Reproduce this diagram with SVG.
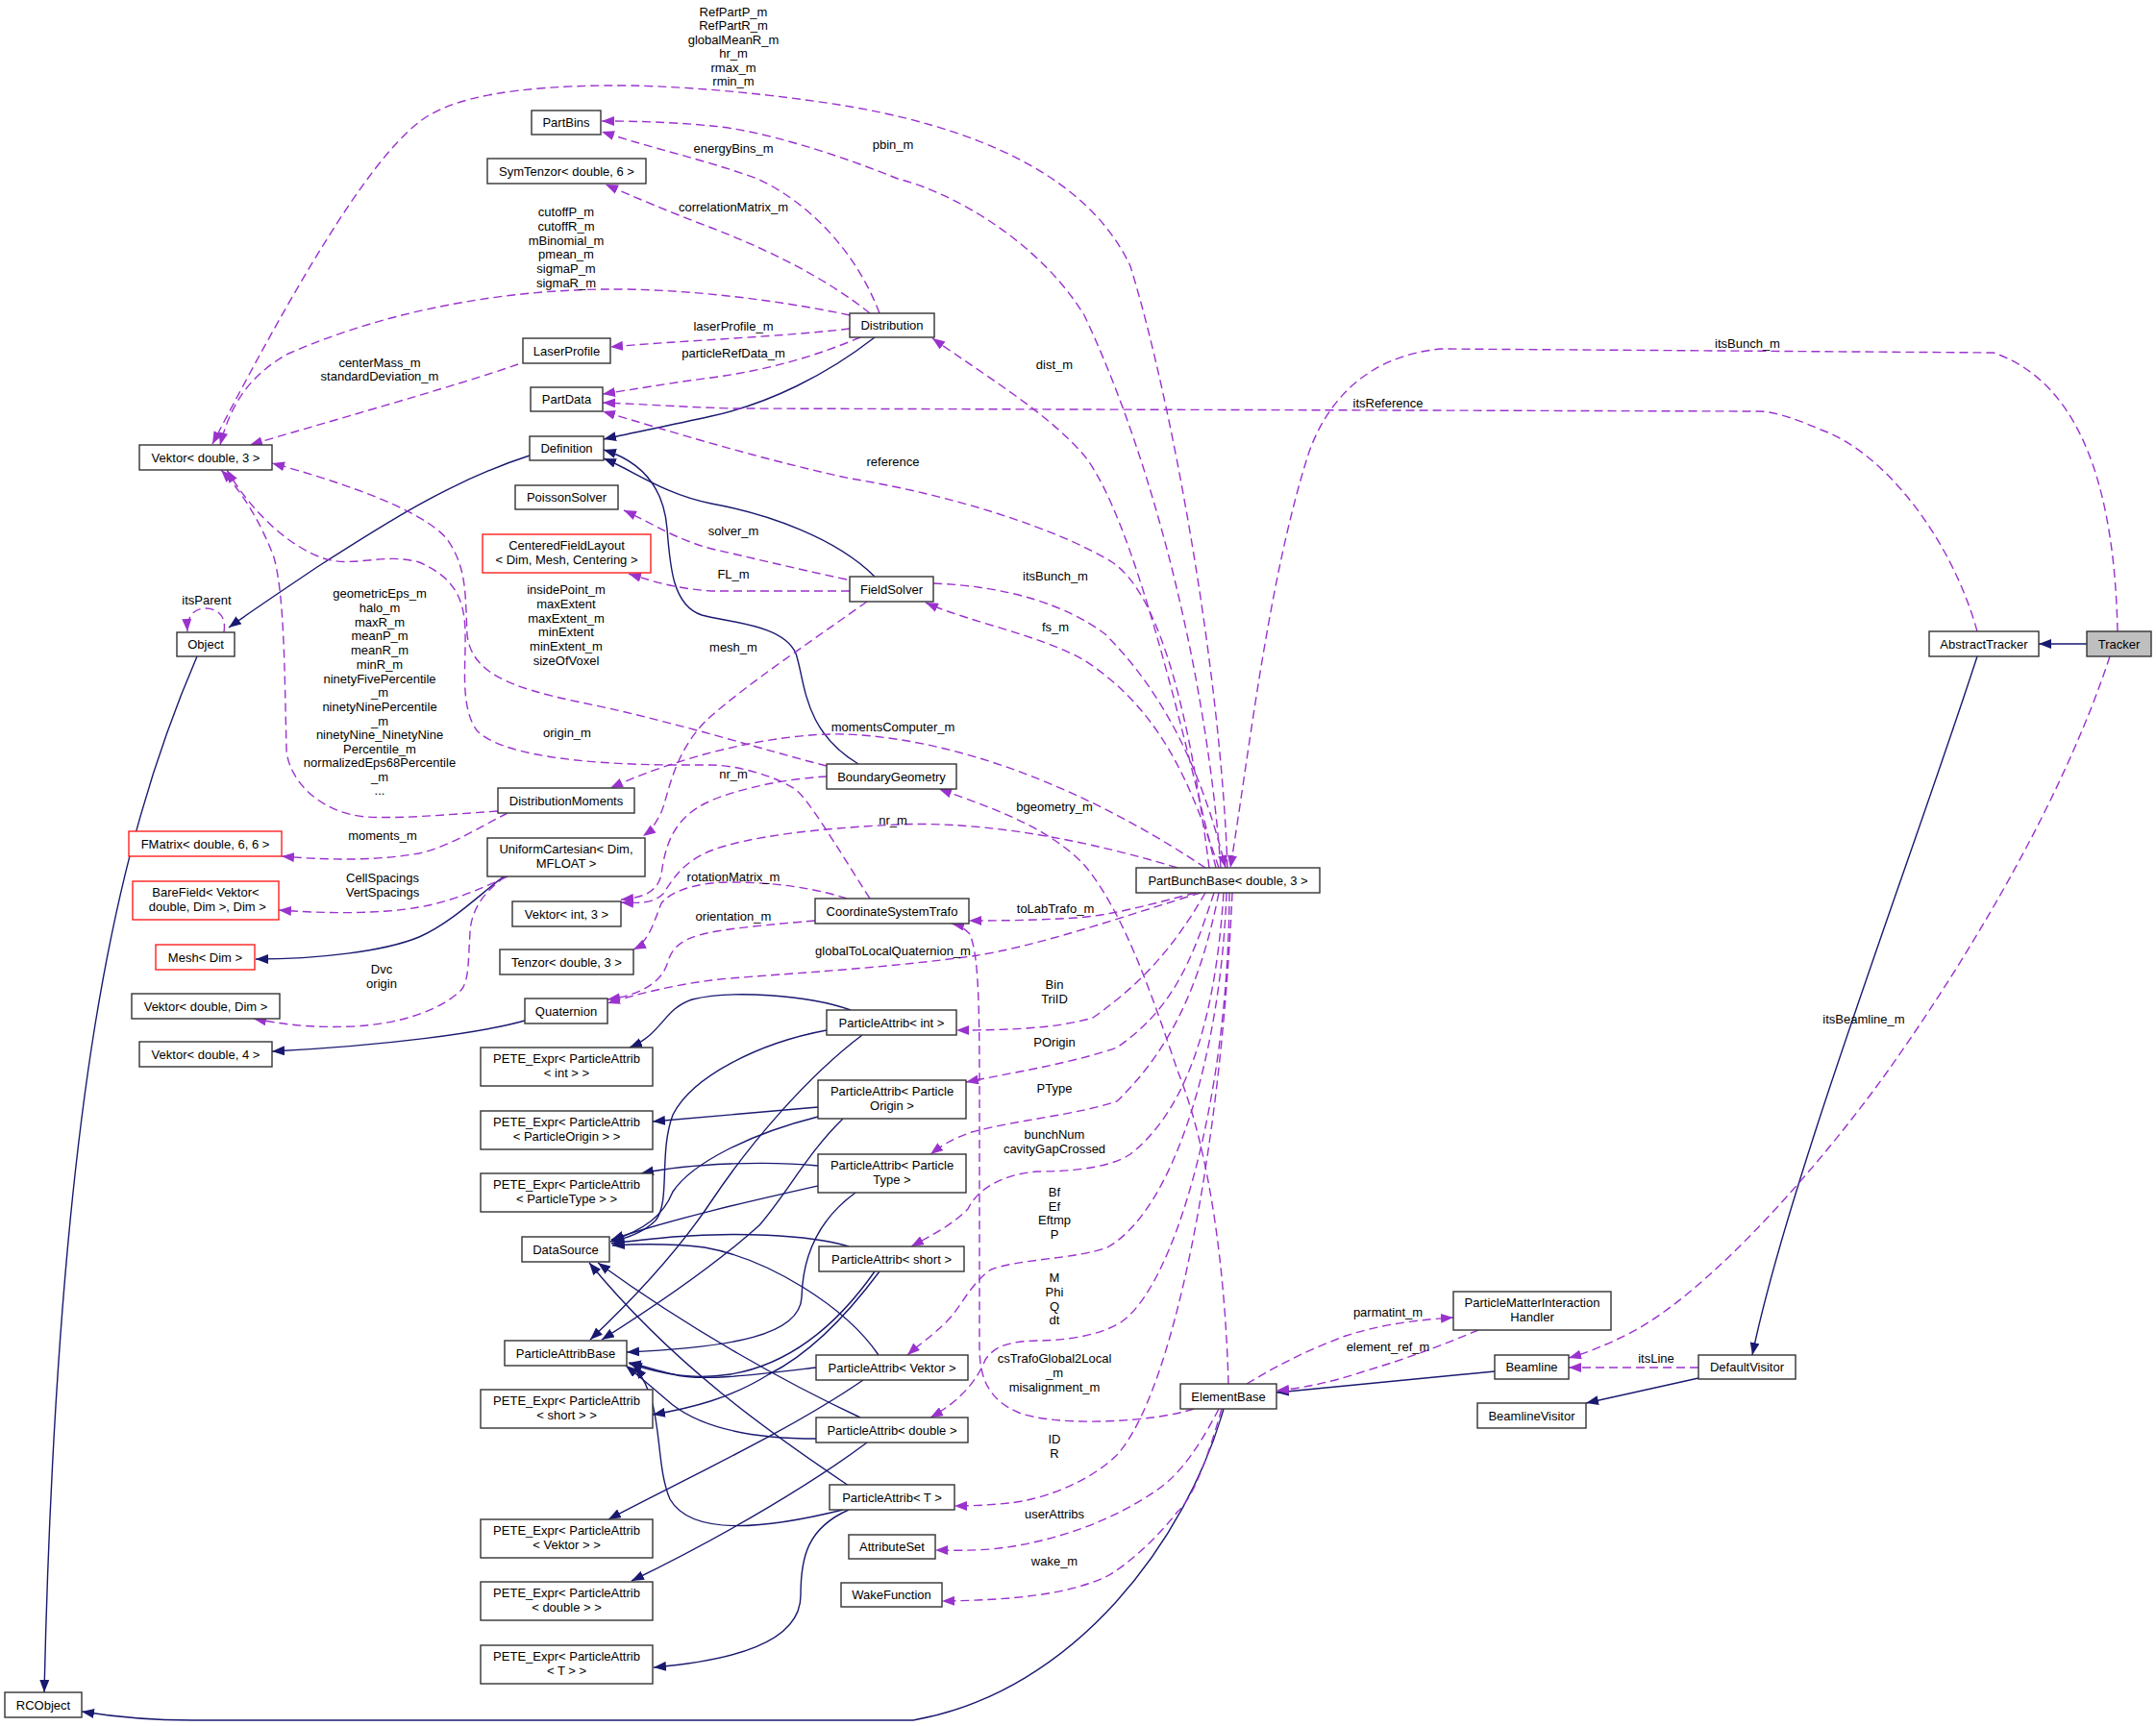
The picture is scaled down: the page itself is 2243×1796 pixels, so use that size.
<svg xmlns="http://www.w3.org/2000/svg" width="2243" height="1796" viewBox="0 0 2243 1796">
<style>
text{font-family:"Liberation Sans",Arial,sans-serif;font-size:13px;fill:#000;text-anchor:middle}
.n rect{fill:#fff;stroke:#333;stroke-width:1.4}
.r rect{fill:#fff;stroke:#ff2020;stroke-width:1.4}
.g rect{fill:#bfbfbf;stroke:#333;stroke-width:1.4}
.s{fill:none;stroke:#191970;stroke-width:1.4;marker-end:url(#an)}
.d{fill:none;stroke:#9a32cd;stroke-width:1.4;stroke-dasharray:9,5;marker-end:url(#ap)}
</style>
<defs>
<marker id="an" viewBox="0 0 13 10" refX="13" refY="5" markerWidth="13" markerHeight="10" orient="auto" markerUnits="userSpaceOnUse"><path d="M0,0 L13,5 L0,10 z" fill="#191970"/></marker>
<marker id="ap" viewBox="0 0 13 10" refX="13" refY="5" markerWidth="13" markerHeight="10" orient="auto" markerUnits="userSpaceOnUse"><path d="M0,0 L13,5 L0,10 z" fill="#9a32cd"/></marker>
</defs>
<rect width="2243" height="1796" fill="#fff"/>
<g id="connectors">
<!-- inheritance -->
<path class="s" d="M2171,670 L2121,670"/>
<path class="s" d="M2057,683 C1990,890 1860,1230 1823,1410"/>
<path class="s" d="M1767,1434 L1650,1460"/>
<path class="s" d="M1555,1427 L1328,1449"/>
<path class="s" d="M1273,1466 C1235,1600 1120,1760 950,1790 L200,1790 C150,1790 110,1785 85,1781"/>
<path class="s" d="M205,683 C120,880 60,1150 46,1761"/>
<path class="s" d="M551,474 C470,500 400,545 330,590 C290,617 260,637 238,653"/>
<path class="s" d="M910,351 C860,390 800,420 740,433 C700,442 660,450 628,457"/>
<path class="s" d="M910,600 C870,560 800,535 740,524 C690,514 660,490 628,477"/>
<path class="s" d="M893,795 C835,760 838,710 828,680 C815,650 760,648 730,640 C700,630 697,590 694,550 C690,500 660,478 628,468"/>
<path class="s" d="M524,912 C500,930 470,960 436,975 C400,990 330,998 266,998"/>
<path class="s" d="M546,1062 C500,1075 400,1088 283,1094"/>
<path class="s" d="M885,1051 C840,1035 760,1030 720,1040 C690,1050 690,1075 655,1090"/>
<path class="s" d="M860,1072 C790,1085 720,1120 700,1160 C685,1200 698,1250 682,1270 C670,1282 655,1288 635,1292"/>
<path class="s" d="M897,1077 C840,1120 780,1190 740,1250 C700,1310 650,1360 614,1394"/>
<path class="s" d="M851,1152 L679,1167"/>
<path class="s" d="M851,1162 C780,1180 720,1210 700,1240 C690,1265 670,1280 636,1291"/>
<path class="s" d="M877,1164 C840,1200 820,1240 790,1275 C740,1320 680,1360 626,1394"/>
<path class="s" d="M851,1213 C800,1208 720,1210 667,1221"/>
<path class="s" d="M851,1234 C780,1250 700,1268 636,1290"/>
<path class="s" d="M890,1241 C850,1270 835,1310 834,1350 C832,1390 760,1402 652,1407"/>
<path class="s" d="M915,1323 C880,1370 840,1410 800,1430 C760,1455 720,1465 679,1472"/>
<path class="s" d="M883,1297 C840,1284 760,1282 700,1287 C670,1290 650,1292 636,1294"/>
<path class="s" d="M910,1323 C870,1380 820,1420 760,1430 C720,1436 690,1430 655,1419"/>
<path class="s" d="M898,1436 C820,1490 700,1545 633,1581"/>
<path class="s" d="M914,1410 C880,1360 800,1310 733,1298 C700,1294 670,1294 637,1296"/>
<path class="s" d="M849,1423 C790,1430 730,1438 700,1430 C680,1425 665,1420 654,1418"/>
<path class="s" d="M902,1501 C850,1540 760,1595 657,1645"/>
<path class="s" d="M895,1475 C820,1440 720,1385 622,1314"/>
<path class="s" d="M849,1497 C780,1497 730,1485 700,1462 C680,1445 665,1432 651,1421"/>
<path class="s" d="M883,1571 C840,1590 833,1620 833,1660 C833,1710 760,1728 680,1735"/>
<path class="s" d="M883,1546 C800,1490 700,1420 613,1314"/>
<path class="s" d="M877,1571 C800,1590 720,1600 697,1560 C680,1520 692,1460 660,1422"/>
<!-- usage -->
<path class="d" d="M1277,903 C1270,700 1220,420 1176,277 C1140,200 1050,140 885,111 C800,97 700,88 630,89 C540,90 470,100 436,127 C380,170 300,310 221,462"/>
<path class="d" d="M1270,903 C1255,700 1200,480 1128,328 C1080,250 990,200 934,186 C870,160 790,135 740,131 C700,127 660,126 626,126"/>
<path class="d" d="M915,326 C890,260 840,210 788,186 C730,165 680,155 626,137"/>
<path class="d" d="M905,326 C860,290 800,260 740,237 C700,222 660,205 630,192"/>
<path class="d" d="M884,328 C800,310 700,300 630,301 C530,302 410,320 300,368 C260,390 240,420 229,463"/>
<path class="d" d="M884,342 C820,350 700,355 635,361"/>
<path class="d" d="M895,351 C850,370 800,385 740,393 C700,398 660,405 627,410"/>
<path class="d" d="M539,379 C480,400 320,445 260,463"/>
<path class="d" d="M1265,903 C1230,760 1180,540 1128,474 C1090,430 1031,395 970,352"/>
<path class="d" d="M2057,657 C2030,560 1960,470 1894,447 C1860,432 1840,428 1830,428 L760,425 C700,423 660,420 627,419"/>
<path class="d" d="M1258,903 C1240,760 1210,620 1157,585 C1100,550 990,515 885,498 C800,480 700,450 627,428"/>
<path class="d" d="M2203,657 C2200,520 2170,400 2074,367 L1500,363 C1420,370 1380,420 1362,470 C1320,600 1300,780 1280,903"/>
<path class="d" d="M971,607 C1050,610 1110,630 1150,660 C1210,720 1250,800 1275,903"/>
<path class="d" d="M1268,903 C1240,820 1210,740 1128,687 C1080,660 1010,648 963,627"/>
<path class="d" d="M881,603 C820,590 780,580 740,571 C700,560 680,545 649,531"/>
<path class="d" d="M884,615 L740,615 C700,612 680,605 654,597"/>
<path class="d" d="M902,626 C840,670 780,710 740,745 C700,780 695,830 688,845 C682,858 676,865 669,870"/>
<path class="d" d="M860,797 C800,782 700,750 600,730 C530,715 490,700 486,660 C484,620 486,590 465,561 C440,530 350,500 283,482"/>
<path class="d" d="M1254,903 C1160,840 1020,770 880,764 C800,762 700,790 635,820"/>
<path class="d" d="M518,844 C460,848 420,852 380,850 C330,845 300,810 298,780 C296,700 296,620 285,580 C270,540 250,510 230,489"/>
<path class="d" d="M905,935 C870,880 840,830 827,821 C800,804 760,796 740,796 L698,796 C600,795 520,785 496,760 C478,735 485,690 484,660 C484,620 470,600 436,585 C400,575 370,590 340,582 C300,570 260,530 236,489"/>
<path class="d" d="M528,846 C500,860 470,880 436,888 C390,896 340,895 293,891"/>
<path class="d" d="M860,808 C820,810 770,820 740,833 C700,850 692,880 688,910 C684,928 670,934 646,936"/>
<path class="d" d="M1225,903 C1100,865 1000,855 934,858 C850,862 780,870 740,885 C710,897 700,915 690,930 C680,940 665,940 646,939"/>
<path class="d" d="M528,912 C500,925 470,938 436,944 C390,952 330,950 290,947"/>
<path class="d" d="M526,912 C500,930 490,950 489,970 C487,1000 488,1020 480,1030 C460,1050 420,1065 368,1068 C320,1070 290,1065 264,1060"/>
<path class="d" d="M881,935 C850,925 810,918 760,918 C730,918 700,925 688,940 C680,960 675,980 659,988"/>
<path class="d" d="M848,958 C800,962 760,966 740,970 C710,976 700,985 695,1000 C690,1020 670,1035 632,1040"/>
<path class="d" d="M1249,929 C1180,950 1080,985 1011,995 C900,1010 780,1015 740,1020 C700,1025 660,1035 632,1044"/>
<path class="d" d="M1244,929 C1200,940 1160,952 1120,955 C1070,958 1030,958 1008,958"/>
<path class="d" d="M1242,1466 C1200,1480 1100,1485 1060,1470 C1025,1455 1019,1430 1019,1400 L1019,1220 C1019,1060 1020,1000 1009,972 C1003,965 995,962 990,961"/>
<path class="d" d="M1254,929 C1230,970 1200,1015 1137,1059 C1100,1070 1050,1072 995,1072"/>
<path class="d" d="M1263,929 C1240,1000 1220,1050 1162,1090 C1120,1105 1060,1115 1005,1126"/>
<path class="d" d="M1268,929 C1250,1020 1220,1090 1162,1146 C1120,1160 1060,1165 1011,1178 C990,1185 980,1192 968,1201"/>
<path class="d" d="M1273,929 C1265,1050 1240,1150 1176,1201 C1150,1218 1100,1219 1079,1219 C1040,1222 1015,1240 1007,1258 C990,1275 970,1285 948,1297"/>
<path class="d" d="M1276,929 C1270,1100 1220,1260 1152,1298 C1120,1310 1060,1310 1031,1321 C1010,1335 1000,1360 985,1375 C970,1390 955,1400 944,1410"/>
<path class="d" d="M1279,929 C1278,1150 1220,1340 1166,1376 C1140,1392 1100,1395 1079,1395 C1050,1396 1035,1400 1025,1415 C1015,1440 995,1460 968,1475"/>
<path class="d" d="M1282,929 C1270,1200 1220,1450 1162,1514 C1130,1545 1080,1561 1050,1564 C1020,1567 1000,1567 993,1567"/>
<path class="d" d="M1278,1440 C1275,1330 1260,1200 1225,1114 C1200,1040 1170,950 1128,900 C1090,860 1030,840 977,821"/>
<path class="d" d="M1268,1466 C1240,1520 1220,1540 1200,1553 C1160,1580 1100,1605 1031,1612 C1000,1614 985,1613 973,1613"/>
<path class="d" d="M1271,1466 C1250,1540 1235,1565 1225,1573 C1200,1605 1170,1630 1152,1640 C1110,1660 1050,1665 980,1666"/>
<path class="d" d="M1297,1440 C1330,1420 1360,1405 1400,1390 C1440,1377 1480,1373 1512,1371"/>
<path class="d" d="M1538,1384 C1500,1400 1460,1415 1419,1427 C1380,1440 1350,1445 1328,1447"/>
<path class="d" d="M1767,1423 L1632,1423"/>
<path class="d" d="M2195,683 C2150,820 2060,980 1960,1120 C1880,1230 1770,1350 1694,1388 C1670,1400 1650,1408 1632,1413"/>
<path class="d" d="M233,658 C236,640 225,633 214,633 C203,633 194,640 195,657"/>
</g>
<g id="edge-labels">
<text x="763"><tspan x="763" y="16.5">RefPartP_m</tspan><tspan x="763" y="31">RefPartR_m</tspan><tspan x="763" y="45.5">globalMeanR_m</tspan><tspan x="763" y="60">hr_m</tspan><tspan x="763" y="74.5">rmax_m</tspan><tspan x="763" y="89">rmin_m</tspan></text>
<text x="929" y="154.5">pbin_m</text>
<text x="763" y="158.5">energyBins_m</text>
<text x="763" y="220">correlationMatrix_m</text>
<text x="589"><tspan x="589" y="225">cutoffP_m</tspan><tspan x="589" y="240">cutoffR_m</tspan><tspan x="589" y="254.5">mBinomial_m</tspan><tspan x="589" y="269">pmean_m</tspan><tspan x="589" y="284">sigmaP_m</tspan><tspan x="589" y="298.5">sigmaR_m</tspan></text>
<text x="763" y="343.5">laserProfile_m</text>
<text x="763" y="372">particleRefData_m</text>
<text x="395"><tspan x="395" y="381.5">centerMass_m</tspan><tspan x="395" y="396">standardDeviation_m</tspan></text>
<text x="1097" y="384">dist_m</text>
<text x="1818" y="362">itsBunch_m</text>
<text x="1444" y="424">itsReference</text>
<text x="929" y="485">reference</text>
<text x="763" y="557">solver_m</text>
<text x="763" y="602">FL_m</text>
<text x="1098" y="604">itsBunch_m</text>
<text x="589"><tspan x="589" y="618">insidePoint_m</tspan><tspan x="589" y="633">maxExtent</tspan><tspan x="589" y="648">maxExtent_m</tspan><tspan x="589" y="662">minExtent</tspan><tspan x="589" y="677">minExtent_m</tspan><tspan x="589" y="692">sizeOfVoxel</tspan></text>
<text x="215" y="628.5">itsParent</text>
<text x="395"><tspan x="395" y="622">geometricEps_m</tspan><tspan x="395" y="637">halo_m</tspan><tspan x="395" y="651.5">maxR_m</tspan><tspan x="395" y="666">meanP_m</tspan><tspan x="395" y="681">meanR_m</tspan><tspan x="395" y="696">minR_m</tspan><tspan x="395" y="710.5">ninetyFivePercentile</tspan><tspan x="395" y="725">_m</tspan><tspan x="395" y="740">ninetyNinePercentile</tspan><tspan x="395" y="754.5">_m</tspan><tspan x="395" y="769">ninetyNine_NinetyNine</tspan><tspan x="395" y="784">Percentile_m</tspan><tspan x="395" y="798">normalizedEps68Percentile</tspan><tspan x="395" y="813">_m</tspan><tspan x="395" y="827">...</tspan></text>
<text x="1098" y="657">fs_m</text>
<text x="763" y="677.5">mesh_m</text>
<text x="929" y="761">momentsComputer_m</text>
<text x="590" y="766.5">origin_m</text>
<text x="763" y="809.5">nr_m</text>
<text x="1097" y="844">bgeometry_m</text>
<text x="929" y="858">nr_m</text>
<text x="398" y="873.5">moments_m</text>
<text x="398"><tspan x="398" y="918">CellSpacings</tspan><tspan x="398" y="933">VertSpacings</tspan></text>
<text x="763" y="917">rotationMatrix_m</text>
<text x="1098" y="949.5">toLabTrafo_m</text>
<text x="763" y="958">orientation_m</text>
<text x="929" y="994">globalToLocalQuaternion_m</text>
<text x="397"><tspan x="397" y="1012.5">Dvc</tspan><tspan x="397" y="1028">origin</tspan></text>
<text x="1097"><tspan x="1097" y="1029">Bin</tspan><tspan x="1097" y="1043.5">TriID</tspan></text>
<text x="1939" y="1065">itsBeamline_m</text>
<text x="1097" y="1089">POrigin</text>
<text x="1097" y="1137">PType</text>
<text x="1097"><tspan x="1097" y="1185">bunchNum</tspan><tspan x="1097" y="1200">cavityGapCrossed</tspan></text>
<text x="1097"><tspan x="1097" y="1245">Bf</tspan><tspan x="1097" y="1259.5">Ef</tspan><tspan x="1097" y="1274">Eftmp</tspan><tspan x="1097" y="1288.5">P</tspan></text>
<text x="1097"><tspan x="1097" y="1334">M</tspan><tspan x="1097" y="1348.5">Phi</tspan><tspan x="1097" y="1363.5">Q</tspan><tspan x="1097" y="1378">dt</tspan></text>
<text x="1444" y="1370">parmatint_m</text>
<text x="1444" y="1406">element_ref_m</text>
<text x="1723" y="1418">itsLine</text>
<text x="1097"><tspan x="1097" y="1418">csTrafoGlobal2Local</tspan><tspan x="1097" y="1433">_m</tspan><tspan x="1097" y="1448">misalignment_m</tspan></text>
<text x="1097"><tspan x="1097" y="1502">ID</tspan><tspan x="1097" y="1517">R</tspan></text>
<text x="1097" y="1580">userAttribs</text>
<text x="1097" y="1629">wake_m</text>
</g>
<g id="Tracker" class="g"><rect x="2171" y="657" width="67" height="26"/><text x="2204.5" y="674.5">Tracker</text></g>
<g id="AbstractTracker" class="n"><rect x="2007" y="657" width="114" height="26"/><text x="2064" y="674.5">AbstractTracker</text></g>
<g id="PartBunchBase" class="n"><rect x="1182" y="903" width="191" height="26"/><text x="1277.5" y="920.5">PartBunchBase&lt; double, 3 &gt;</text></g>
<g id="PartBins" class="n"><rect x="553" y="115" width="72" height="25"/><text x="589" y="132">PartBins</text></g>
<g id="SymTenzor" class="n"><rect x="507" y="165" width="165" height="26"/><text x="589.5" y="182.5">SymTenzor&lt; double, 6 &gt;</text></g>
<g id="Distribution" class="n"><rect x="884" y="326" width="88" height="25"/><text x="928" y="343">Distribution</text></g>
<g id="LaserProfile" class="n"><rect x="544" y="352" width="91" height="26"/><text x="589.5" y="369.5">LaserProfile</text></g>
<g id="PartData" class="n"><rect x="552" y="403" width="75" height="25"/><text x="589.5" y="420">PartData</text></g>
<g id="Definition" class="n"><rect x="551" y="454" width="77" height="25"/><text x="589.5" y="471">Definition</text></g>
<g id="VektorDouble3" class="n"><rect x="145" y="463" width="138" height="26"/><text x="214" y="480.5">Vektor&lt; double, 3 &gt;</text></g>
<g id="PoissonSolver" class="n"><rect x="536" y="505" width="107" height="25"/><text x="589.5" y="522">PoissonSolver</text></g>
<g id="CenteredFieldLayout" class="r"><rect x="502" y="556" width="175" height="40"/><text x="589.5"><tspan x="589.5" y="572">CenteredFieldLayout</tspan><tspan x="589.5" y="586.5">&lt; Dim, Mesh, Centering &gt;</tspan></text></g>
<g id="FieldSolver" class="n"><rect x="884" y="600" width="87" height="26"/><text x="927.5" y="617.5">FieldSolver</text></g>
<g id="Object" class="n"><rect x="184" y="658" width="60" height="25"/><text x="214" y="675">Object</text></g>
<g id="BoundaryGeometry" class="n"><rect x="860" y="795" width="135" height="26"/><text x="927.5" y="812.5">BoundaryGeometry</text></g>
<g id="DistributionMoments" class="n"><rect x="518" y="820" width="142" height="26"/><text x="589" y="837.5">DistributionMoments</text></g>
<g id="FMatrix" class="r"><rect x="134" y="865" width="159" height="26"/><text x="213.5" y="882.5">FMatrix&lt; double, 6, 6 &gt;</text></g>
<g id="UniformCartesian" class="n"><rect x="507" y="872" width="164" height="40"/><text x="589"><tspan x="589" y="888">UniformCartesian&lt; Dim,</tspan><tspan x="589" y="902.5">MFLOAT &gt;</tspan></text></g>
<g id="BareField" class="r"><rect x="138" y="917" width="152" height="40"/><text x="214"><tspan x="214" y="933">BareField&lt; Vektor&lt;</tspan><tspan x="214" y="947.5"> double, Dim &gt;, Dim &gt;</tspan></text></g>
<g id="VektorInt3" class="n"><rect x="533" y="938" width="113" height="26"/><text x="589.5" y="955.5">Vektor&lt; int, 3 &gt;</text></g>
<g id="CoordinateSystemTrafo" class="n"><rect x="848" y="935" width="160" height="26"/><text x="928" y="952.5">CoordinateSystemTrafo</text></g>
<g id="Mesh" class="r"><rect x="162" y="983" width="103" height="26"/><text x="213.5" y="1000.5">Mesh&lt; Dim &gt;</text></g>
<g id="Tenzor" class="n"><rect x="520" y="988" width="139" height="26"/><text x="589.5" y="1005.5">Tenzor&lt; double, 3 &gt;</text></g>
<g id="VektorDoubleDim" class="n"><rect x="137" y="1034" width="154" height="26"/><text x="214" y="1051.5">Vektor&lt; double, Dim &gt;</text></g>
<g id="Quaternion" class="n"><rect x="546" y="1039" width="86" height="26"/><text x="589" y="1056.5">Quaternion</text></g>
<g id="PAint" class="n"><rect x="860" y="1051" width="135" height="26"/><text x="927.5" y="1068.5">ParticleAttrib&lt; int &gt;</text></g>
<g id="VektorDouble4" class="n"><rect x="145" y="1084" width="138" height="26"/><text x="214" y="1101.5">Vektor&lt; double, 4 &gt;</text></g>
<g id="PETEint" class="n"><rect x="500" y="1090" width="179" height="40"/><text x="589.5"><tspan x="589.5" y="1106">PETE_Expr&lt; ParticleAttrib</tspan><tspan x="589.5" y="1120.5">&lt; int &gt; &gt;</tspan></text></g>
<g id="PAorigin" class="n"><rect x="851" y="1124" width="154" height="40"/><text x="928"><tspan x="928" y="1140">ParticleAttrib&lt; Particle</tspan><tspan x="928" y="1154.5">Origin &gt;</tspan></text></g>
<g id="PETEorigin" class="n"><rect x="500" y="1156" width="179" height="40"/><text x="589.5"><tspan x="589.5" y="1172">PETE_Expr&lt; ParticleAttrib</tspan><tspan x="589.5" y="1186.5">&lt; ParticleOrigin &gt; &gt;</tspan></text></g>
<g id="PAtype" class="n"><rect x="851" y="1201" width="154" height="40"/><text x="928"><tspan x="928" y="1217">ParticleAttrib&lt; Particle</tspan><tspan x="928" y="1231.5">Type &gt;</tspan></text></g>
<g id="PETEtype" class="n"><rect x="500" y="1221" width="179" height="40"/><text x="589.5"><tspan x="589.5" y="1237">PETE_Expr&lt; ParticleAttrib</tspan><tspan x="589.5" y="1251.5">&lt; ParticleType &gt; &gt;</tspan></text></g>
<g id="DataSource" class="n"><rect x="543" y="1287" width="91" height="26"/><text x="588.5" y="1304.5">DataSource</text></g>
<g id="PAshort" class="n"><rect x="852" y="1297" width="151" height="26"/><text x="927.5" y="1314.5">ParticleAttrib&lt; short &gt;</text></g>
<g id="PMIH" class="n"><rect x="1512" y="1344" width="164" height="40"/><text x="1594"><tspan x="1594" y="1360">ParticleMatterInteraction</tspan><tspan x="1594" y="1374.5">Handler</tspan></text></g>
<g id="ParticleAttribBase" class="n"><rect x="525" y="1395" width="127" height="26"/><text x="588.5" y="1412.5">ParticleAttribBase</text></g>
<g id="PAvektor" class="n"><rect x="849" y="1410" width="158" height="26"/><text x="928" y="1427.5">ParticleAttrib&lt; Vektor &gt;</text></g>
<g id="Beamline" class="n"><rect x="1555" y="1410" width="77" height="25"/><text x="1593.5" y="1427">Beamline</text></g>
<g id="DefaultVisitor" class="n"><rect x="1767" y="1410" width="101" height="25"/><text x="1817.5" y="1427">DefaultVisitor</text></g>
<g id="ElementBase" class="n"><rect x="1228" y="1440" width="100" height="26"/><text x="1278" y="1457.5">ElementBase</text></g>
<g id="PETEshort" class="n"><rect x="500" y="1446" width="179" height="40"/><text x="589.5"><tspan x="589.5" y="1462">PETE_Expr&lt; ParticleAttrib</tspan><tspan x="589.5" y="1476.5">&lt; short &gt; &gt;</tspan></text></g>
<g id="BeamlineVisitor" class="n"><rect x="1537" y="1460" width="113" height="26"/><text x="1593.5" y="1477.5">BeamlineVisitor</text></g>
<g id="PAdouble" class="n"><rect x="849" y="1475" width="158" height="26"/><text x="928" y="1492.5">ParticleAttrib&lt; double &gt;</text></g>
<g id="PAT" class="n"><rect x="863" y="1545" width="130" height="26"/><text x="928" y="1562.5">ParticleAttrib&lt; T &gt;</text></g>
<g id="PETEvektor" class="n"><rect x="500" y="1581" width="179" height="40"/><text x="589.5"><tspan x="589.5" y="1597">PETE_Expr&lt; ParticleAttrib</tspan><tspan x="589.5" y="1611.5">&lt; Vektor &gt; &gt;</tspan></text></g>
<g id="AttributeSet" class="n"><rect x="883" y="1597" width="90" height="25"/><text x="928" y="1614">AttributeSet</text></g>
<g id="PETEdouble" class="n"><rect x="500" y="1646" width="179" height="40"/><text x="589.5"><tspan x="589.5" y="1662">PETE_Expr&lt; ParticleAttrib</tspan><tspan x="589.5" y="1676.5">&lt; double &gt; &gt;</tspan></text></g>
<g id="WakeFunction" class="n"><rect x="875" y="1647" width="105" height="25"/><text x="927.5" y="1664">WakeFunction</text></g>
<g id="PETET" class="n"><rect x="500" y="1712" width="179" height="40"/><text x="589.5"><tspan x="589.5" y="1728">PETE_Expr&lt; ParticleAttrib</tspan><tspan x="589.5" y="1742.5">&lt; T &gt; &gt;</tspan></text></g>
<g id="RCObject" class="n"><rect x="5" y="1761" width="80" height="26"/><text x="45" y="1778.5">RCObject</text></g>
</svg>
